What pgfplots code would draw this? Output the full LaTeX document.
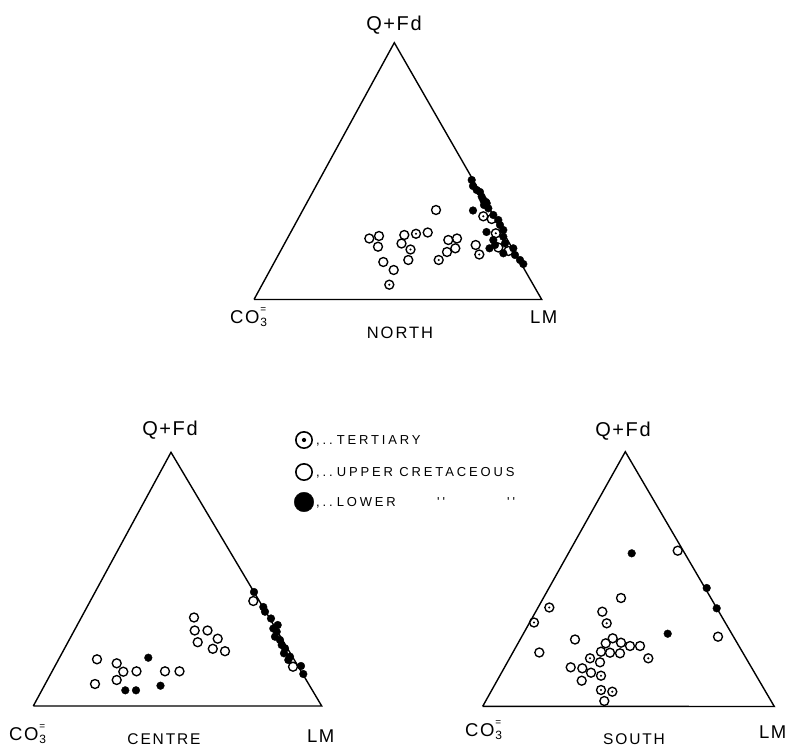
\documentclass[border=0pt]{standalone}
\usepackage{fontspec}
\setmainfont{Liberation Sans}
\newfontfamily\bigfont[LetterSpace=8]{Liberation Sans}
\newfontfamily\midfont[LetterSpace=12]{Liberation Sans}
\newfontfamily\capfont[LetterSpace=22]{Liberation Sans}
\usepackage{pgfplots}
\pgfplotsset{compat=1.18}

\pgfdeclareplotmark{odot}{%
  \pgfpathcircle{\pgfpointorigin}{\pgfplotmarksize}%
  \pgfusepathqstroke
  \pgfpathcircle{\pgfpointorigin}{0.26\pgfplotmarksize}%
  \pgfusepathqfill}

\newcommand{\lab}{\bigfont\fontsize{20bp}{20bp}\selectfont}
\newcommand{\labs}{\bigfont\fontsize{18.5bp}{18.5bp}\selectfont}
\newcommand{\captfont}{\midfont\fontsize{16.5bp}{16.5bp}\selectfont}
\newcommand{\captfontb}{\midfont\fontsize{15.5bp}{15.5bp}\selectfont}
\newcommand{\leg}{\capfont\fontsize{13bp}{13bp}\selectfont}
\newcommand{\cothree}{CO\rlap{\kern1bp\raisebox{0.58em}{\fontsize{10bp}{10bp}\selectfont =}}\kern1bp\raisebox{-0.2em}{\fontsize{12bp}{12bp}\selectfont 3}}

% ---------------- data (pixel positions) ----------------
% NORTH
\pgfplotstableread{
x y
436 210
369.3 238.5
379 236
378 246.7
404.3 235
401.5 243.5
427.7 232.5
408.3 260
383.3 262
393.7 270
448.3 240
457 238.5
455.3 248.3
447 252
475.7 245
491.7 219
498.3 247.5
508.5 251
}\northU
\pgfplotstableread{
x y
416 233.8
410.5 249.5
438.7 260
389.3 284.7
479.3 254.5
483.3 216.3
495.8 233.3
}\northT
\pgfplotstableread{
x y
471.7 180
473 186
476.7 190
480 192
481.7 196.7
483.3 200
486 202
484 205
486.7 203.3
488.3 208.3
473 210.5
493.3 215
498.3 220
500 225
503.3 230
486.5 232
503.3 236.7
493.3 240
505 243.3
495 245
489.5 248.3
503.3 253.3
513.3 248.3
515 255
520 260
523.3 264
}\northL
% CENTRE
\pgfplotstableread{
x y
97 659.3
95 684
116.7 663.3
123.3 671.7
116.7 680
136.5 671.3
165 671.3
179.5 671.3
194 617.5
194.7 630.5
207.5 630.5
197.7 642.2
217.7 638.7
212.8 648.8
225 651.2
253.3 601
293 666.7
}\centreU
\pgfplotstableread{
x y
148.3 657.7
125.3 690.3
136 690.3
160.5 685.7
254 592
263.3 607
265 611.7
271 618.5
277.7 625
273.3 628.5
276.7 631.7
275 636.7
280 640
281.7 645
285 648.3
284 653.3
290 656.7
288.3 660
301 666
303.3 674
}\centreL
% SOUTH
\pgfplotstableread{
x y
677.7 550.7
621 598
602.3 611.7
575 639.5
539.3 652.5
718 636.7
605.7 643.3
612.7 638.3
621 642.7
630 646
640 646
601 651.7
610 652.7
620 653.3
600 662.3
570.7 667.3
582.3 668.3
591 672.7
581.7 680.7
604.3 701
}\southU
\pgfplotstableread{
x y
534 622.5
549.3 607.5
606.7 623.3
590 658.3
648.3 658.3
601 675.7
601 690
612.3 691.7
}\southT
\pgfplotstableread{
x y
631.7 553.3
706.7 588
716.7 608.3
667.7 633.7
}\southL

\begin{document}
\begin{tikzpicture}
\begin{axis}[
  width=798bp, height=746bp, scale only axis,
  xmin=0, xmax=798, ymin=0, ymax=746, y dir=reverse,
  axis line style={draw=none}, ticks=none,
  clip=false,
  upper/.style={only marks, mark=o, mark size=4.5, mark options={draw=black, fill=none, line width=1.35bp}},
  tert/.style={only marks, mark=odot, mark size=4.5, mark options={draw=black, fill=black, line width=1.35bp}},
  lower/.style={only marks, mark=*, mark size=3.9, mark options={draw=black, fill=black, line width=0.3bp}},
]
% triangles
\addplot[black, line width=1.4bp, line join=miter] coordinates {(254,299.5) (394.3,42.7) (541.7,299.5) (254,299.5)};
\addplot[black, line width=1.4bp, line join=miter] coordinates {(33.3,706) (171,452.3) (321.7,706) (33.3,706)};
\addplot[black, line width=1.4bp, line join=miter] coordinates {(482.7,706.3) (625.3,451.7) (774.3,706.5) (482.7,706.3)};

% NORTH
\addplot[upper] table {\northU};
\addplot[tert] table {\northT};
\addplot[lower] table {\northL};
% CENTRE
\addplot[upper] table {\centreU};
\addplot[lower] table {\centreL};
% SOUTH
\addplot[upper] table {\southU};
\addplot[tert] table {\southT};
\addplot[lower] table {\southL};

% legend symbols
\addplot[only marks, mark=odot, mark size=8.2, mark options={draw=black, fill=black, line width=1.6bp}] coordinates {(304,440)};
\addplot[only marks, mark=o, mark size=8.2, mark options={draw=black, fill=none, line width=1.6bp}] coordinates {(304,472)};
\addplot[only marks, mark=*, mark size=9.8, mark options={draw=black, fill=black}] coordinates {(304,502)};

% labels NORTH
\node[anchor=base, font=\lab] at (axis cs:394,31) {Q+Fd};
\node[anchor=base west, font=\labs, inner sep=0pt] at (axis cs:230,323) {\cothree};
\node[anchor=base west, font=\labs, inner sep=0pt] at (axis cs:530,323) {LM};
\node[anchor=base, font=\captfont, inner sep=0pt] at (axis cs:400,338) {NORTH};
% labels CENTRE
\node[anchor=base, font=\lab] at (axis cs:170,435) {Q+Fd};
\node[anchor=base west, font=\labs, inner sep=0pt] at (axis cs:9,740) {\cothree};
\node[anchor=base west, font=\labs, inner sep=0pt] at (axis cs:307,742) {LM};
\node[anchor=base, font=\captfontb, inner sep=0pt] at (axis cs:164,744) {CENTRE};
% labels SOUTH
\node[anchor=base, font=\lab] at (axis cs:623,436) {Q+Fd};
\node[anchor=base west, font=\labs, inner sep=0pt] at (axis cs:465,736) {\cothree};
\node[anchor=base west, font=\labs, inner sep=0pt] at (axis cs:759,738) {LM};
\node[anchor=base, font=\captfontb, inner sep=0pt] at (axis cs:634,744) {SOUTH};

% legend text
\node[anchor=base west, font=\leg, inner sep=0pt] at (axis cs:316,444.5) {,..\kern4bp TERTIARY};
\node[anchor=base west, font=\leg, inner sep=0pt] at (axis cs:316,476.5) {,..\kern4bp UPPER CRETACEOUS};
\node[anchor=base west, font=\leg, inner sep=0pt] at (axis cs:316,506.5) {,..\kern4bp LOWER};
\node[anchor=base west, font=\leg, inner sep=0pt] at (axis cs:437,506.5) {''};
\node[anchor=base west, font=\leg, inner sep=0pt] at (axis cs:507,506.5) {''};
\end{axis}
\end{tikzpicture}
\end{document}
